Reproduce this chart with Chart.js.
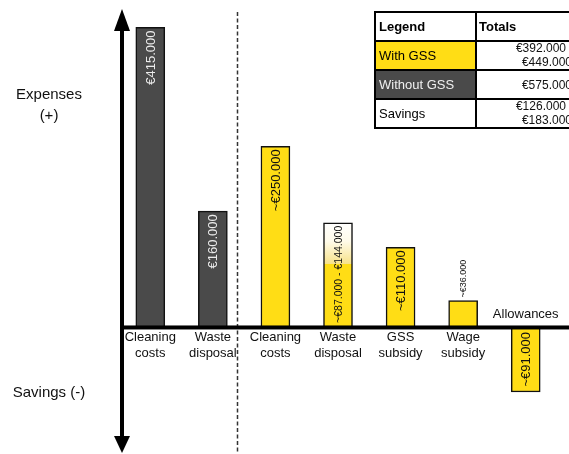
<!DOCTYPE html>
<html>
<head>
<meta charset="utf-8">
<script src="https://cdn.jsdelivr.net/npm/chart.js@4/dist/chart.umd.min.js"></script>
<style>
  html, body { margin: 0; padding: 0; background: #ffffff; }
  #wrap { width: 569px; height: 454px; position: relative; }
</style>
</head>
<body>
<div id="wrap"><canvas id="chart" width="569" height="454"></canvas></div>
<script>
// Cost items, left group without GSS, right group with GSS
const categories = [
  ['Cleaning', 'costs'],
  ['Waste', 'disposal'],
  ['Cleaning', 'costs'],
  ['Waste', 'disposal'],
  ['GSS', 'subsidy'],
  ['Wage', 'subsidy'],
  ['Allowances']
];
// Expenses are positive, savings negative (EUR)
const amounts = [415000, 160000, 250000, 144000, 110000, 36000, -91000];
const scenario = ['without', 'without', 'with', 'with', 'with', 'with', 'with'];
const approximate = [false, false, true, true, true, true, true];
// Waste disposal with GSS is a range: low end here, high end in amounts
const wasteRangeIndex = 3;
const wasteDisposalLow = 87000;

const legendRows = ['With GSS', 'Without GSS', 'Savings'];
const expensesLabel = ['Expenses', '(+)'];
const savingsLabel = 'Savings (-)';

const FONT = '"Liberation Sans", Arial, Helvetica, sans-serif';
const YELLOW = '#ffdd15';
const DARK = '#4a4a4a';

function euro(v) {
  return '\u20ac' + String(Math.abs(v)).replace(/\B(?=(\d{3})+(?!\d))/g, '.');
}

// Totals for the table, derived from the bar values
const withoutTotal = amounts.reduce((s, v, i) => scenario[i] === 'without' ? s + v : s, 0);
const withHigh = amounts.reduce((s, v, i) => scenario[i] === 'with' ? s + v : s, 0);
const withLow = withHigh - amounts[wasteRangeIndex] + wasteDisposalLow;
const totals = [
  [euro(withLow), euro(withHigh)],
  [euro(withoutTotal)],
  [euro(withoutTotal - withHigh), euro(withoutTotal - withLow)]
];

function barColor(ctx) {
  const i = ctx.dataIndex;
  if (scenario[i] === 'without') return DARK;
  if (i !== wasteRangeIndex) return YELLOW;
  const chart = ctx.chart;
  if (!chart.chartArea || !chart.scales.y) return YELLOW;
  const y = chart.scales.y;
  const yTop = y.getPixelForValue(amounts[i]);
  const yLow = y.getPixelForValue(wasteDisposalLow);
  const y0 = y.getPixelForValue(0);
  const g = chart.ctx.createLinearGradient(0, yTop, 0, y0);
  const f = (yLow - yTop) / (y0 - yTop);
  g.addColorStop(0, '#ffffff');
  g.addColorStop(f * 0.45, '#fffbea');
  g.addColorStop(f, '#f7e28a');
  g.addColorStop(Math.min(1, f + 0.001), YELLOW);
  g.addColorStop(1, YELLOW);
  return g;
}

// Axes with arrows, baseline and separator
const framePlugin = {
  id: 'frame',
  afterDatasetsDraw(chart) {
    const { ctx, chartArea, scales } = chart;
    const x = scales.x, y = scales.y;
    const zeroY = y.getPixelForValue(0);
    const axisX = chartArea.left + 3;
    ctx.save();
    // separator between the two scenarios
    const p1 = x.getPixelForValue(1), p2 = x.getPixelForValue(2);
    const sepX = Math.round(p1 + (p2 - p1) * 0.39) + 0.5;
    ctx.strokeStyle = '#333333';
    ctx.lineWidth = 1.5;
    ctx.setLineDash([4, 2.5]);
    ctx.beginPath();
    ctx.moveTo(sepX, 12);
    ctx.lineTo(sepX, 454);
    ctx.stroke();
    ctx.setLineDash([]);
    // baseline
    ctx.fillStyle = '#000000';
    ctx.fillRect(axisX - 2, zeroY - 1, chart.width - axisX + 2, 4);
    // vertical axis
    ctx.fillRect(axisX - 2, 26, 4, 414);
    ctx.beginPath();
    ctx.moveTo(axisX, 9);
    ctx.lineTo(axisX + 8, 31);
    ctx.lineTo(axisX - 8, 31);
    ctx.closePath();
    ctx.fill();
    ctx.beginPath();
    ctx.moveTo(axisX, 453);
    ctx.lineTo(axisX + 8, 436);
    ctx.lineTo(axisX - 8, 436);
    ctx.closePath();
    ctx.fill();
    ctx.restore();
  }
};

// Value labels inside / above the bars and category names
const labelPlugin = {
  id: 'labels',
  afterDatasetsDraw(chart) {
    const { ctx, scales } = chart;
    const zeroY = scales.y.getPixelForValue(0);
    const meta = chart.getDatasetMeta(0);
    ctx.save();
    meta.data.forEach((bar, i) => {
      const v = amounts[i];
      let text = i === wasteRangeIndex ? euro(wasteDisposalLow) + ' - ' + euro(v) : euro(v);
      if (approximate[i]) text = '~' + text;
      let size = i === wasteRangeIndex ? 10.5 : 13;
      ctx.font = size + 'px ' + FONT;
      const h = Math.abs(bar.base - bar.y);
      const w = ctx.measureText(text).width;
      ctx.fillStyle = scenario[i] === 'without' ? '#ececec' : '#111111';
      ctx.textBaseline = 'middle';
      ctx.save();
      if (v < 0) {
        ctx.translate(bar.x, (bar.y + bar.base) / 2);
        ctx.rotate(-Math.PI / 2);
        ctx.textAlign = 'center';
        ctx.fillText(text, 0, 1);
      } else if (w + 2 > h) {
        ctx.font = '9px ' + FONT;
        ctx.fillStyle = '#111111';
        ctx.translate(bar.x, bar.y - 3);
        ctx.rotate(-Math.PI / 2);
        ctx.textAlign = 'left';
        ctx.fillText(text, 0, 0.5);
      } else {
        ctx.translate(bar.x, bar.y + 3);
        ctx.rotate(-Math.PI / 2);
        ctx.textAlign = 'right';
        ctx.fillText(text, 0, 1);
      }
      ctx.restore();

      // category name
      ctx.font = '13px ' + FONT;
      ctx.fillStyle = '#111111';
      ctx.textAlign = 'center';
      ctx.textBaseline = 'middle';
      const lines = categories[i];
      if (v >= 0) {
        lines.forEach((ln, k) => ctx.fillText(ln, bar.x, zeroY + 11 + k * 16));
      } else {
        ctx.fillText(lines[0], bar.x, zeroY - 12);
      }
    });
    ctx.restore();
  }
};

// Side captions and the legend / totals table
const tablePlugin = {
  id: 'table',
  afterDraw(chart) {
    const { ctx } = chart;
    ctx.save();
    ctx.fillStyle = '#111111';
    ctx.font = '15px ' + FONT;
    ctx.textAlign = 'center';
    ctx.textBaseline = 'middle';
    ctx.fillText(expensesLabel[0], 49, 95);
    ctx.fillText(expensesLabel[1], 49, 116);
    ctx.fillText(savingsLabel, 49, 393);

    const left = 375, mid = 476, right = 576;
    const rows = [12, 41, 70, 99, 128];
    ctx.fillStyle = YELLOW;
    ctx.fillRect(left, rows[1], mid - left, rows[2] - rows[1]);
    ctx.fillStyle = DARK;
    ctx.fillRect(left, rows[2], mid - left, rows[3] - rows[2]);

    ctx.strokeStyle = '#000000';
    ctx.lineWidth = 2;
    ctx.strokeRect(left, rows[0], right - left, rows[4] - rows[0]);
    ctx.beginPath();
    for (let r = 1; r < 4; r++) {
      ctx.moveTo(left, rows[r]);
      ctx.lineTo(right, rows[r]);
    }
    ctx.moveTo(mid, rows[0]);
    ctx.lineTo(mid, rows[4]);
    ctx.stroke();

    ctx.textAlign = 'left';
    ctx.font = 'bold 13px ' + FONT;
    ctx.fillStyle = '#000000';
    ctx.fillText('Legend', left + 4, 27);
    ctx.fillText('Totals', mid + 3, 27);

    ctx.font = '13px ' + FONT;
    legendRows.forEach((name, r) => {
      ctx.fillStyle = r === 1 ? '#f0f0f0' : '#000000';
      ctx.fillText(name, left + 4, (rows[r + 1] + rows[r + 2]) / 2 + 1);
    });

    ctx.font = '12px ' + FONT;
    ctx.fillStyle = '#111111';
    ctx.textAlign = 'right';
    totals.forEach((vals, r) => {
      const cy = (rows[r + 1] + rows[r + 2]) / 2;
      if (vals.length === 1) {
        ctx.fillText(vals[0], 572, cy + 1);
      } else {
        ctx.fillText(vals[0], 566, cy - 6.5);
        ctx.fillText(vals[1], 572, cy + 7.5);
      }
    });
    ctx.restore();
  }
};

new Chart(document.getElementById('chart'), {
  type: 'bar',
  data: {
    labels: categories,
    datasets: [{
      data: amounts,
      backgroundColor: barColor,
      borderColor: '#111111',
      borderWidth: 1.5,
      barThickness: 29
    }]
  },
  options: {
    responsive: false,
    devicePixelRatio: 1,
    animation: false,
    layout: { padding: { left: 119, right: 12, top: 8, bottom: 0 } },
    plugins: { legend: { display: false }, tooltip: { enabled: false } },
    scales: {
      x: { display: false, offset: true },
      y: { display: false, min: -177000, max: 442000 }
    }
  },
  plugins: [framePlugin, labelPlugin, tablePlugin]
});
</script>
</body>
</html>
